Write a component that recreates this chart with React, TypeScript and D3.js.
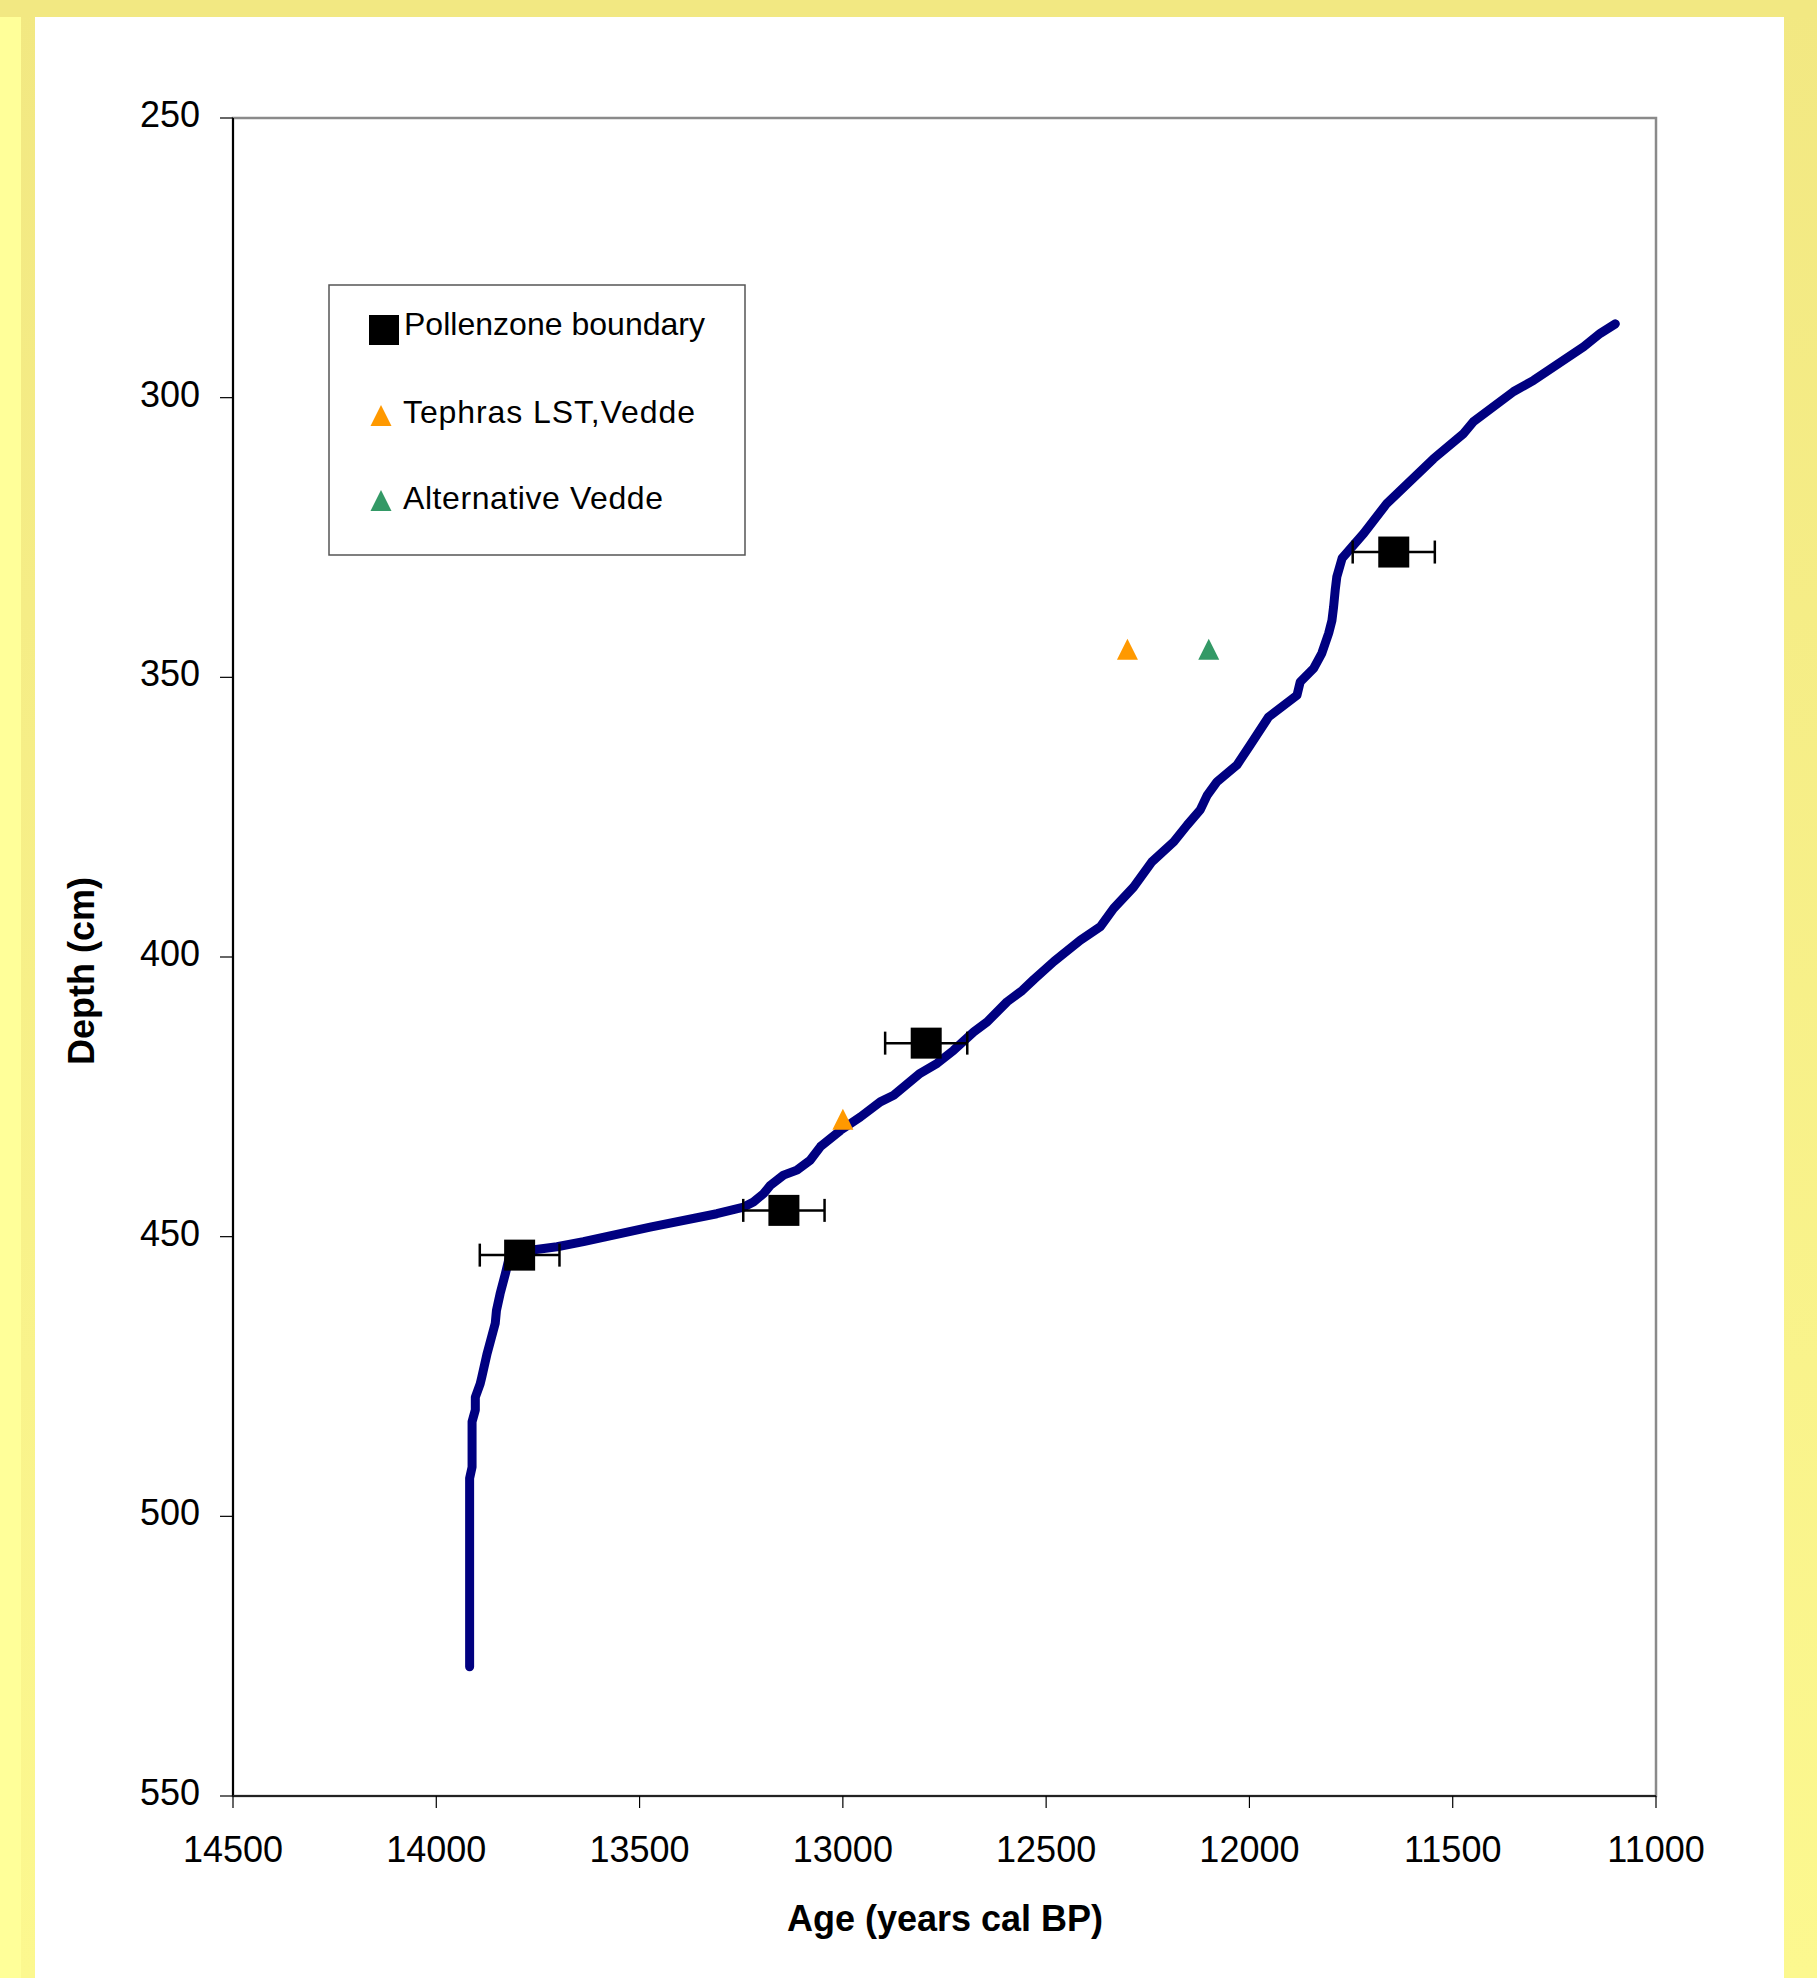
import React from "react";
import * as d3 from "d3";

const lineAge = [
  11100, 11137, 11178, 11301, 11350, 11449, 11473, 11547, 11662, 11719, 11748, 11772, 11785, 11789,
  11793, 11797, 11805, 11822, 11842, 11875, 11883, 11953, 11998, 12031, 12080, 12104, 12121, 12153,
  12186, 12240, 12285, 12334, 12367, 12416, 12481, 12530, 12559, 12596, 12645, 12678, 12728, 12768,
  12810, 12875, 12908, 12957, 13006, 13055, 13080, 13113, 13146, 13178, 13195, 13220, 13244, 13310,
  13474, 13638, 13703, 13806, 13822, 13830, 13843, 13852, 13855, 13875, 13888, 13892, 13904, 13904,
  13912, 13912, 13918, 13918,
];
const lineDepth = [
  286.8, 288.5, 290.9, 296.9, 298.9, 304.3, 306.4, 310.9, 318.9, 324.3, 326.7, 328.7, 332.0, 334.4,
  337.4, 339.8, 342.1, 345.7, 348.4, 350.8, 353.2, 357.1, 362.1, 365.7, 368.7, 371.1, 373.7, 376.4,
  379.4, 383.0, 387.5, 391.3, 394.6, 397.0, 400.8, 404.0, 406.0, 408.0, 411.6, 413.4, 416.7, 419.0,
  420.8, 424.7, 425.9, 428.6, 431.0, 433.9, 436.3, 438.1, 439.0, 440.8, 442.3, 443.8, 444.7, 445.9,
  448.3, 450.9, 451.8, 452.8, 454.2, 456.6, 460.2, 463.2, 465.5, 470.9, 475.1, 476.3, 478.7, 481.0,
  483.1, 491.2, 493.2, 526.9,
];

const pollenAge = [13795, 13145, 12795, 11645];
const pollenDepth = [453.3, 445.3, 415.4, 327.6];
const pollenErr = [98, 100, 101, 101];

const tephraAge = [12300, 13000];
const tephraDepth = [345, 429];
const altVeddeAge = [12100];
const altVeddeDepth = [345];

const xTicks = [14500, 14000, 13500, 13000, 12500, 12000, 11500, 11000];
const yTicks = [250, 300, 350, 400, 450, 500, 550];

const legendLabels = ["Pollenzone boundary", "Tephras LST,Vedde", "Alternative Vedde"];

const W = 1817;
const H = 1978;
const FONT = "'Liberation Sans', Arial, sans-serif";

export default function App() {
  const x = d3.scaleLinear().domain([14500, 11000]).range([233, 1656]);
  const y = d3.scaleLinear().domain([250, 550]).range([118, 1796]);

  const pts: [number, number][] = lineAge.map((a, i) => [a, lineDepth[i]]);
  const lineGen = d3
    .line<[number, number]>()
    .x((d) => x(d[0]))
    .y((d) => y(d[1]));

  const tri = (cx: number, cy: number, s = 21) =>
    `M${cx},${cy - s / 2} L${cx + s / 2},${cy + s / 2} L${cx - s / 2},${cy + s / 2} Z`;

  const x0 = x(14500);
  const x1 = x(11000);
  const y0 = y(250);
  const y1 = y(550);

  const legX = 329;
  const legY = 285;

  return (
    <svg
      width={W}
      height={H}
      style={{ position: "absolute", left: 0, top: 0, display: "block" }}
      fontFamily={FONT}
    >
      <defs>
        <linearGradient id="band" x1="0" y1="0" x2="0" y2="1">
          <stop offset="0" stopColor="#f2e882" />
          <stop offset="1" stopColor="#fcf88f" />
        </linearGradient>
      </defs>
      <rect x={0} y={0} width={W} height={H} fill="#ffff99" />
      <rect x={21} y={0} width={W - 21} height={H} fill="url(#band)" />
      <rect x={0} y={0} width={W} height={17} fill="#f2e882" />
      <rect x={35} y={17} width={1784 - 35} height={H - 17} fill="#ffffff" />

      {/* plot frame */}
      <rect x={x0} y={y0} width={x1 - x0} height={y1 - y0} fill="none" stroke="#8a8a8a" strokeWidth={2.5} />
      <line x1={x0} y1={y0} x2={x0} y2={y1} stroke="#000" strokeWidth={2} />
      <line x1={x0} y1={y1} x2={x1} y2={y1} stroke="#222" strokeWidth={2} />

      {/* y ticks */}
      {yTicks.map((t) => (
        <g key={"y" + t}>
          <line x1={x0 - 13} x2={x0} y1={y(t)} y2={y(t)} stroke="#000" strokeWidth={1.2} />
          <text x={200} y={y(t) + 9} fontSize={36} textAnchor="end" fill="#000">
            {t}
          </text>
        </g>
      ))}
      {/* x ticks */}
      {xTicks.map((t) => (
        <g key={"x" + t}>
          <line x1={x(t)} x2={x(t)} y1={y1} y2={y1 + 12} stroke="#000" strokeWidth={1.2} />
          <text x={x(t)} y={1862} fontSize={36} textAnchor="middle" fill="#000">
            {t}
          </text>
        </g>
      ))}

      {/* axis titles */}
      <text x={945} y={1931} fontSize={36} fontWeight="bold" textAnchor="middle" fill="#000">
        Age (years cal BP)
      </text>
      <text
        transform={`translate(94, 971) rotate(-90)`}
        fontSize={36}
        fontWeight="bold"
        textAnchor="middle"
        fill="#000"
      >
        Depth (cm)
      </text>

      {/* age-depth line */}
      <path
        d={lineGen(pts) || ""}
        fill="none"
        stroke="#000080"
        strokeWidth={9}
        strokeLinejoin="round"
        strokeLinecap="round"
      />

      {/* pollen zone boundaries with error bars */}
      {pollenAge.map((a, i) => {
        const cy = y(pollenDepth[i]);
        const xl = x(a + pollenErr[i]);
        const xr = x(a - pollenErr[i]);
        return (
          <g key={"p" + i}>
            <line x1={xl} x2={xr} y1={cy} y2={cy} stroke="#000" strokeWidth={2.5} />
            <line x1={xl} x2={xl} y1={cy - 11.5} y2={cy + 11.5} stroke="#000" strokeWidth={2.5} />
            <line x1={xr} x2={xr} y1={cy - 11.5} y2={cy + 11.5} stroke="#000" strokeWidth={2.5} />
            <rect x={x(a) - 15.5} y={cy - 15.5} width={31} height={31} fill="#000" />
          </g>
        );
      })}

      {/* tephras */}
      {tephraAge.map((a, i) => (
        <path key={"t" + i} d={tri(x(a), y(tephraDepth[i]))} fill="#ff9900" />
      ))}
      {altVeddeAge.map((a, i) => (
        <path key={"v" + i} d={tri(x(a), y(altVeddeDepth[i]))} fill="#339966" />
      ))}

      {/* legend */}
      <rect x={legX} y={legY} width={416} height={270} fill="#fff" stroke="#555" strokeWidth={1.5} />
      <rect x={369} y={315} width={30} height={30} fill="#000" />
      <path d={tri(381, 415.5)} fill="#ff9900" />
      <path d={tri(381, 500.5)} fill="#339966" />
      <text x={404} y={335} fontSize={32} fill="#000" textLength={301} lengthAdjust="spacing">
        {legendLabels[0]}
      </text>
      <text x={403} y={423} fontSize={32} fill="#000" textLength={292} lengthAdjust="spacing">
        {legendLabels[1]}
      </text>
      <text x={403} y={509} fontSize={32} fill="#000" textLength={260} lengthAdjust="spacing">
        {legendLabels[2]}
      </text>
    </svg>
  );
}
